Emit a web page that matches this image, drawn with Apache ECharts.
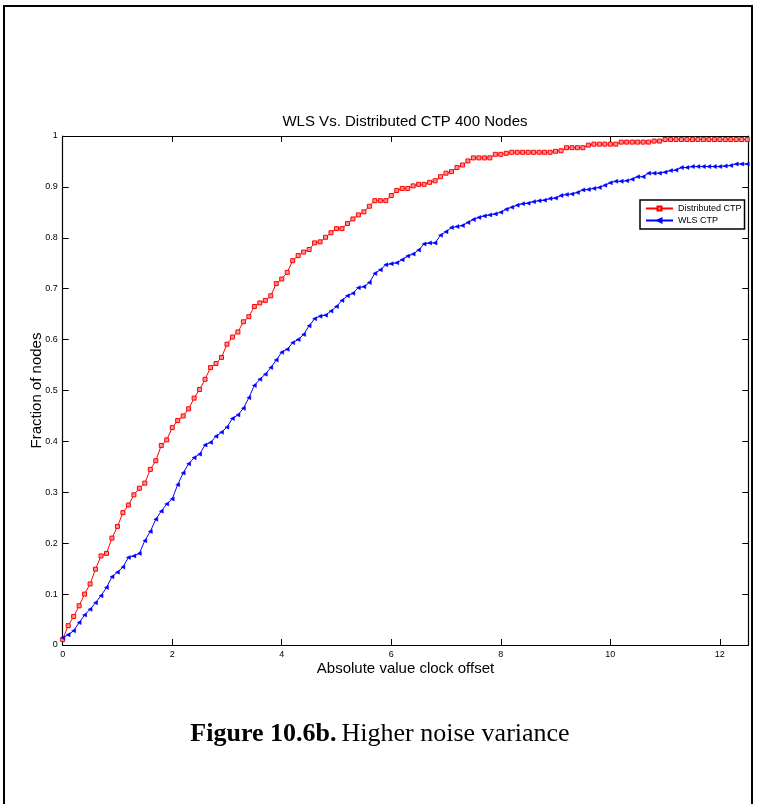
<!DOCTYPE html>
<html>
<head>
<meta charset="utf-8">
<script src="https://cdn.jsdelivr.net/npm/echarts@6/dist/echarts.min.js"></script>
<style>html,body{margin:0;padding:0;background:#fff;}#c{width:758px;height:804px;}</style>
</head>
<body>
<div id="c"></div>
<script>
const xs = [0,0.1,0.2,0.3,0.4,0.5,0.6,0.7,0.8,0.9,1,1.1,1.2,1.3,1.4,1.5,1.6,1.7,1.8,1.9,2,2.1,2.2,2.3,2.4,2.5,2.6,2.7,2.8,2.9,3,3.1,3.2,3.3,3.4,3.5,3.6,3.7,3.8,3.9,4,4.1,4.2,4.3,4.4,4.5,4.6,4.7,4.8,4.9,5,5.1,5.2,5.3,5.4,5.5,5.6,5.7,5.8,5.9,6,6.1,6.2,6.3,6.4,6.5,6.6,6.7,6.8,6.9,7,7.1,7.2,7.3,7.4,7.5,7.6,7.7,7.8,7.9,8,8.1,8.2,8.3,8.4,8.5,8.6,8.7,8.8,8.9,9,9.1,9.2,9.3,9.4,9.5,9.6,9.7,9.8,9.9,10,10.1,10.2,10.3,10.4,10.5,10.6,10.7,10.8,10.9,11,11.1,11.2,11.3,11.4,11.5,11.6,11.7,11.8,11.9,12,12.1,12.2,12.3,12.4,12.5];
const distributedCTP = [0.011,0.038,0.056,0.077,0.100,0.120,0.149,0.175,0.180,0.210,0.233,0.260,0.275,0.295,0.308,0.318,0.345,0.362,0.392,0.403,0.427,0.441,0.450,0.464,0.485,0.502,0.522,0.545,0.553,0.565,0.591,0.605,0.615,0.635,0.645,0.665,0.672,0.677,0.686,0.710,0.719,0.732,0.755,0.765,0.772,0.777,0.790,0.792,0.801,0.810,0.818,0.818,0.828,0.837,0.845,0.851,0.862,0.873,0.873,0.873,0.883,0.893,0.897,0.897,0.902,0.905,0.905,0.909,0.912,0.920,0.927,0.930,0.938,0.943,0.951,0.957,0.957,0.957,0.957,0.964,0.964,0.966,0.968,0.968,0.968,0.968,0.968,0.968,0.968,0.968,0.970,0.971,0.977,0.977,0.977,0.977,0.982,0.984,0.984,0.984,0.984,0.984,0.988,0.988,0.988,0.988,0.988,0.988,0.990,0.990,0.993,0.993,0.993,0.993,0.993,0.993,0.993,0.993,0.993,0.993,0.993,0.993,0.993,0.993,0.993,0.993];
const wlsCTP = [0.014,0.020,0.028,0.044,0.059,0.070,0.083,0.097,0.113,0.134,0.143,0.153,0.172,0.175,0.180,0.205,0.223,0.247,0.263,0.277,0.287,0.315,0.338,0.356,0.368,0.375,0.393,0.398,0.410,0.418,0.428,0.445,0.452,0.465,0.486,0.510,0.522,0.532,0.545,0.560,0.575,0.581,0.594,0.600,0.610,0.627,0.641,0.646,0.648,0.656,0.665,0.677,0.686,0.691,0.702,0.704,0.712,0.730,0.737,0.747,0.749,0.751,0.757,0.764,0.768,0.776,0.788,0.790,0.790,0.805,0.812,0.820,0.822,0.824,0.830,0.836,0.840,0.843,0.845,0.847,0.850,0.856,0.860,0.864,0.867,0.868,0.871,0.873,0.874,0.877,0.878,0.883,0.885,0.886,0.889,0.894,0.895,0.897,0.899,0.903,0.908,0.911,0.911,0.912,0.915,0.920,0.920,0.927,0.927,0.927,0.929,0.932,0.933,0.938,0.938,0.940,0.940,0.940,0.940,0.940,0.940,0.941,0.942,0.945,0.945,0.945];
const seriesNames = ['Distributed CTP', 'WLS CTP'];
const titleText = 'WLS Vs. Distributed CTP 400 Nodes';
const xLabel = 'Absolute value clock offset';
const yLabel = 'Fraction of nodes';

const chart = echarts.init(document.getElementById('c'), null, {renderer: 'canvas'});
const font = 'Liberation Sans, Arial, sans-serif';
const serif = 'Liberation Serif, Times New Roman, serif';
const axisCommon = {
  axisLine: {show: true, onZero: false, lineStyle: {color: '#000', width: 1.2}},
  axisTick: {show: true, inside: true, length: 6, lineStyle: {color: '#000', width: 1}},
  splitLine: {show: false}
};
chart.setOption({
  animation: false,
  backgroundColor: '#fff',
  title: [
    {text: titleText, left: 405, top: 114, textAlign: 'center', padding: 0,
     textStyle: {fontFamily: font, fontSize: 15, fontWeight: 'normal', color: '#000'}},
    {text: '{b|Figure 10.6b.} {n|Higher noise variance}', left: 380, top: 721, textAlign: 'center', padding: 0,
     textStyle: {rich: {
       b: {fontFamily: serif, fontSize: 26, fontWeight: 'bold', color: '#000'},
       n: {fontFamily: serif, fontSize: 26, fontWeight: 'normal', color: '#000'}
     }}}
  ],
  legend: {
    left: 640, top: 200, orient: 'vertical',
    padding: [4, 3, 4, 5], itemGap: 3, itemWidth: 27, itemHeight: 5,
    borderColor: '#000', borderWidth: 1.5, backgroundColor: '#fff',
    textStyle: {fontFamily: font, fontSize: 9, color: '#000'},
    data: seriesNames
  },
  grid: {left: 62.7, right: 9.7, top: 136, bottom: 159, containLabel: false},
  xAxis: [
    Object.assign({type: 'value', position: 'bottom', min: 0, max: 12.52, interval: 2,
      name: xLabel, nameLocation: 'middle', nameGap: 16, nameMoveOverlap: false,
      nameTextStyle: {fontFamily: font, fontSize: 15, color: '#000'},
      axisLabel: {fontFamily: font, fontSize: 9, color: '#000', margin: 5, showMaxLabel: false}}, axisCommon),
    Object.assign({type: 'value', position: 'top', min: 0, max: 12.52, interval: 2,
      axisLabel: {show: false}}, axisCommon)
  ],
  yAxis: [
    Object.assign({type: 'value', position: 'left', min: 0, max: 1, interval: 0.1,
      name: yLabel, nameLocation: 'middle', nameGap: 18, nameMoveOverlap: false,
      nameTextStyle: {fontFamily: font, fontSize: 15, color: '#000'},
      axisLabel: {fontFamily: font, fontSize: 9, color: '#000', margin: 5}}, axisCommon),
    Object.assign({type: 'value', position: 'right', min: 0, max: 1, interval: 0.1,
      axisLabel: {show: false}}, axisCommon)
  ],
  series: [
    {name: seriesNames[0], type: 'line', xAxisIndex: 0, yAxisIndex: 0,
     data: xs.map((x, i) => [x, distributedCTP[i]]),
     symbol: 'rect', symbolSize: 4, showAllSymbol: true,
     lineStyle: {color: '#ff0000', width: 1},
     itemStyle: {color: '#ff9090', borderColor: '#ff0000', borderWidth: 1}},
    {name: seriesNames[1], type: 'line', xAxisIndex: 0, yAxisIndex: 0,
     data: xs.map((x, i) => [x, wlsCTP[i]]),
     symbol: 'triangle', symbolRotate: 90, symbolSize: 4, showAllSymbol: true,
     lineStyle: {color: '#0000ff', width: 1},
     itemStyle: {color: '#0000ff', borderColor: '#0000ff', borderWidth: 0.5}}
  ],
  graphic: [
    {type: 'rect', silent: true, z: 100,
     shape: {x: 4, y: 6, width: 748, height: 900},
     style: {fill: 'none', stroke: '#000', lineWidth: 2}}
  ]
});
</script>
</body>
</html>
